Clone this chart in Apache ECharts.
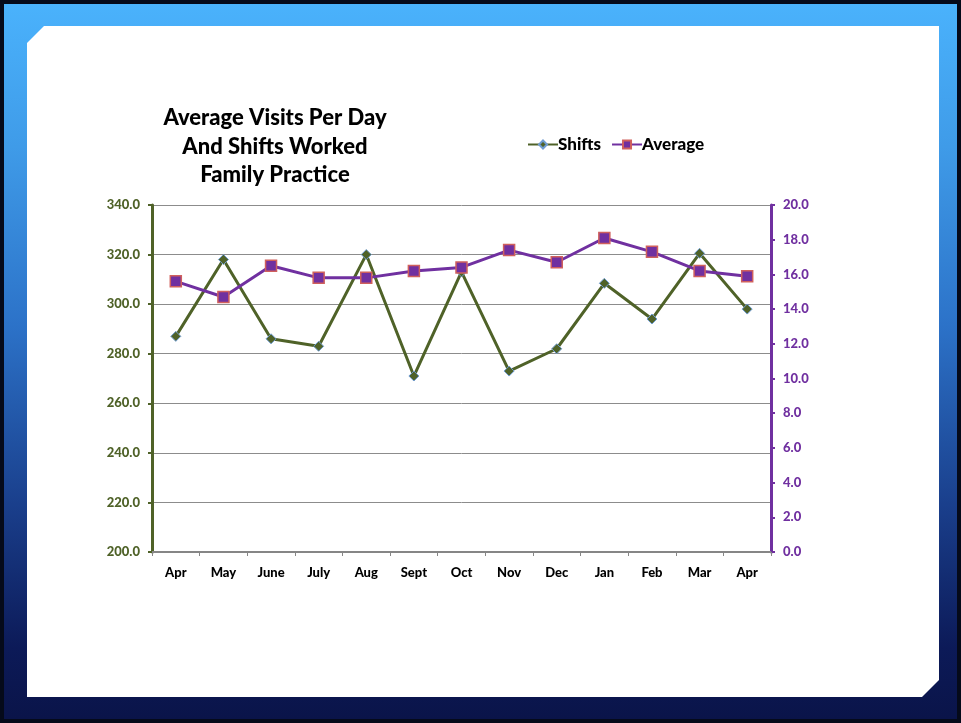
<!DOCTYPE html>
<html>
<head>
<meta charset="utf-8">
<script src="https://cdn.jsdelivr.net/npm/echarts@6/dist/echarts.min.js"></script>
<style>
  html, body { margin: 0; padding: 0; background: #000; }
  #frame { position: absolute; left: 0; top: 0; width: 961px; height: 723px; background: #050a1a; }
  #blue { position: absolute; left: 4px; top: 4px; width: 953px; height: 715px;
    background: linear-gradient(to bottom, #4ab2fc 0%, #3f9be8 20%, #2c72c8 45%, #1a3f8c 70%, #0c1a58 90%, #0a1449 100%); }
  #panel { position: absolute; left: 0; top: 0; width: 961px; height: 723px; background: #fff;
    clip-path: polygon(44px 26px, 939px 26px, 939px 680px, 922px 697px, 27px 697px, 27px 43px); }
  #chart { position: absolute; left: 0; top: 0; width: 961px; height: 723px; }
</style>
</head>
<body>
<div id="frame"><div id="blue"></div></div>
<div id="panel"></div>
<div id="chart"></div>
<script>
const categories = ['Apr', 'May', 'June', 'July', 'Aug', 'Sept', 'Oct', 'Nov', 'Dec', 'Jan', 'Feb', 'Mar', 'Apr'];
const shifts = [287, 318, 286, 283, 320, 271, 313, 273, 282, 308.4, 294, 320.5, 298];
const average = [15.6, 14.7, 16.5, 15.8, 15.8, 16.2, 16.4, 17.4, 16.7, 18.1, 17.3, 16.2, 15.9];
const leftTicks = { min: 200, max: 340, interval: 20 };
const rightTicks = { min: 0, max: 20, interval: 2 };

const FONT = 'Lato, "Open Sans", sans-serif';
const chart = echarts.init(document.getElementById('chart'), null, { renderer: 'canvas' });
chart.setOption({
  backgroundColor: 'transparent',
  animation: false,
  title: {
    text: 'Average Visits Per Day\nAnd Shifts Worked\nFamily Practice',
    left: 275,
    top: 104,
    textAlign: 'center',
    padding: 0,
    textStyle: { fontFamily: FONT, fontSize: 22, fontWeight: 900, color: '#000', lineHeight: 28.5 }
  },
  legend: {
    left: 527,
    top: 136,
    padding: 0,
    itemWidth: 30,
    itemHeight: 10,
    itemGap: 10,
    textStyle: { fontFamily: FONT, fontSize: 17, fontWeight: 900, color: '#000', padding: [0, 0, 0, -5] },
    data: ['Shifts', 'Average']
  },
  grid: { left: 152, right: 190, top: 205, bottom: 171, containLabel: false },
  xAxis: {
    type: 'category',
    data: categories,
    boundaryGap: true,
    axisLine: { lineStyle: { color: '#868686', width: 2 } },
    axisTick: { show: true, length: 4, lineStyle: { color: '#868686', width: 1 } },
    axisLabel: { fontFamily: FONT, fontSize: 13, fontWeight: 900, color: '#000', margin: 14 }
  },
  yAxis: [
    {
      type: 'value',
      position: 'left',
      min: leftTicks.min, max: leftTicks.max, interval: leftTicks.interval,
      axisLine: { show: true, lineStyle: { color: '#4f6228', width: 3 } },
      axisTick: { show: true, length: 4, lineStyle: { color: '#4f6228', width: 2 } },
      splitLine: { show: true, lineStyle: { color: '#8c8c8c', width: 1 } },
      axisLabel: { fontFamily: FONT, fontSize: 13, fontWeight: 900, color: '#4f6228', margin: 12,
        formatter: v => v.toFixed(1) }
    },
    {
      type: 'value',
      position: 'right',
      min: rightTicks.min, max: rightTicks.max, interval: rightTicks.interval,
      axisLine: { show: true, lineStyle: { color: '#7030a0', width: 3 } },
      axisTick: { show: true, length: 4, lineStyle: { color: '#7030a0', width: 2 } },
      splitLine: { show: false },
      axisLabel: { fontFamily: FONT, fontSize: 13, fontWeight: 900, color: '#7030a0', margin: 12,
        formatter: v => v.toFixed(1) }
    }
  ],
  series: [
    {
      name: 'Shifts',
      type: 'line',
      yAxisIndex: 0,
      data: shifts,
      symbol: 'diamond',
      symbolSize: 10,
      lineStyle: { color: '#4f6228', width: 3 },
      itemStyle: { color: '#4f6228', borderColor: '#6f9bd0', borderWidth: 1 },
      z: 3
    },
    {
      name: 'Average',
      type: 'line',
      yAxisIndex: 1,
      data: average,
      symbol: 'rect',
      symbolSize: 11,
      lineStyle: { color: '#7030a0', width: 3 },
      itemStyle: { color: '#7030a0', borderColor: '#d0605d', borderWidth: 1.5 },
      z: 4
    }
  ]
});
</script>
</body>
</html>
